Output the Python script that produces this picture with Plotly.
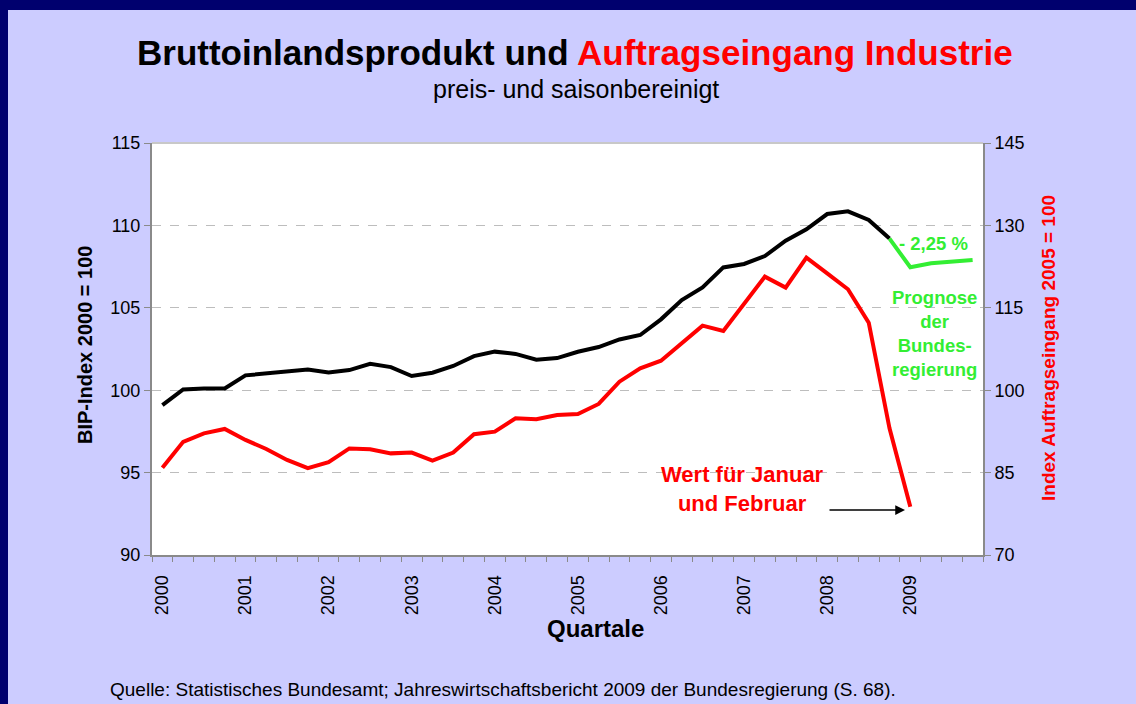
import plotly.graph_objects as go

# ---- data ----
years = [str(y) for y in range(2000, 2010)]
quarters = [f"{y} Q{q}" for y in range(2000, 2010) for q in range(1, 5)]

# BIP-Index 2000 = 100 (actual, 2000Q1 .. 2008Q4)
bip_actual = [99.1, 100.05, 100.1, 100.1, 100.9, 101.03, 101.18, 101.25,
              101.08, 101.22, 101.6, 101.4, 100.86, 101.06, 101.47, 102.07,
              102.34, 102.2, 101.85, 101.95, 102.33, 102.62, 103.08, 103.35,
              104.3, 105.47, 106.24, 107.45, 107.66, 108.14, 109.07, 109.76,
              110.69, 110.85, 110.33, 109.2]
# Prognose der Bundesregierung (2009Q1 .. 2009Q4)
bip_forecast = [107.46, 107.7, 107.8, 107.9]

# Index Auftragseingang 2005 = 100 (2000Q1 .. 2009Q1)
orders = [85.9, 90.6, 92.15, 92.95, 90.95, 89.3, 87.3, 85.8,
          86.9, 89.4, 89.25, 88.5, 88.65, 87.2, 88.65, 92.0,
          92.45, 94.9, 94.7, 95.5, 95.67, 97.5, 101.55, 103.98,
          105.37, 108.54, 111.75, 110.8, 115.82, 120.67, 118.67, 124.13,
          121.28, 118.37, 112.3, 93.06, 78.8]

left_ticks = [90, 95, 100, 105, 110, 115]
right_ticks = [70, 85, 100, 115, 130, 145]

# ---- figure ----
idx = list(range(len(quarters)))
n_act = len(bip_actual)

GREEN = "#33EE33"
RED = "#FF0000"

fig = go.Figure()
fig.add_trace(go.Scatter(x=idx[:n_act], y=bip_actual, mode="lines",
                         line=dict(color="black", width=4), yaxis="y",
                         showlegend=False))
fig.add_trace(go.Scatter(x=idx[n_act - 1:n_act + len(bip_forecast)],
                         y=[bip_actual[-1]] + bip_forecast, mode="lines",
                         line=dict(color=GREEN, width=4), yaxis="y",
                         showlegend=False))
fig.add_trace(go.Scatter(x=idx[:len(orders)], y=orders, mode="lines",
                         line=dict(color=RED, width=4), yaxis="y2",
                         showlegend=False))

W, H = 1136, 704
L, R, T, B = 152, 153, 143, 149
pw, ph = W - L - R, H - T - B

def px_x(px):
    return (px - L) / pw

def px_y(py):
    return (H - B - py) / ph

axis_gray = "#8A8A8A"
font_fam = "Liberation Sans, Arial, sans-serif"

def note(text, x, y, size, color="black", xanchor="center", angle=0):
    return dict(text=text, xref="paper", yref="paper", x=px_x(x), y=px_y(y),
                xanchor=xanchor, yanchor="middle", showarrow=False,
                textangle=angle, font=dict(size=size, color=color))

fig.update_layout(
    width=W, height=H,
    margin=dict(l=L, r=R, t=T, b=B),
    paper_bgcolor="#CCCCFF",
    plot_bgcolor="white",
    font=dict(family=font_fam, color="black"),
    xaxis=dict(
        range=[-0.5, len(quarters) - 0.5],
        tickvals=[quarters.index(f"{y} Q1") for y in years],
        ticktext=years,
        tickangle=-90,
        ticks="",
        ticklabelstandoff=11,
        tickfont=dict(size=18),
        showgrid=False, zeroline=False,
        showline=True, linecolor=axis_gray, linewidth=2, mirror=False,
        minor=dict(ticks="outside", tick0=-0.5, dtick=1, ticklen=5,
                   tickcolor=axis_gray, showgrid=False),
    ),
    yaxis=dict(
        range=[left_ticks[0], left_ticks[-1]],
        tickvals=left_ticks,
        ticks="outside", ticklen=6, tickcolor=axis_gray,
        tickfont=dict(size=18),
        showgrid=True, gridcolor="#BDBDBD", griddash="dash", gridwidth=1,
        zeroline=False,
        showline=True, linecolor=axis_gray, linewidth=2,
    ),
    yaxis2=dict(
        range=[right_ticks[0], right_ticks[-1]],
        tickvals=right_ticks,
        overlaying="y", side="right",
        ticks="outside", ticklen=6, tickcolor=axis_gray,
        tickfont=dict(size=18),
        showgrid=False, zeroline=False,
        showline=True, linecolor=axis_gray, linewidth=2,
    ),
    shapes=[
        # navy frame strips
        dict(type="rect", xref="paper", yref="paper", layer="below",
             x0=px_x(0), x1=px_x(W), y0=px_y(10), y1=px_y(0),
             fillcolor="#00006E", line=dict(width=0)),
        dict(type="rect", xref="paper", yref="paper", layer="below",
             x0=px_x(0), x1=px_x(8), y0=px_y(H), y1=px_y(0),
             fillcolor="#00006E", line=dict(width=0)),
        # top border of plot area
        dict(type="line", xref="paper", yref="paper",
             x0=0, x1=1, y0=1, y1=1, line=dict(color="#C8C8C8", width=2)),
    ],
    annotations=[
        note("<b>Bruttoinlandsprodukt und <span style='color:#FF0000'>Auftragseingang Industrie</span></b>",
             575, 52, 35),
        note("preis- und saisonbereinigt", 576, 89, 25),
        note("Quelle: Statistisches Bundesamt; Jahreswirtschaftsbericht 2009 der Bundesregierung (S. 68).",
             108, 689, 19, xanchor="left"),
        note("<b>Quartale</b>", 595, 628, 24),
        note("<b>BIP-Index 2000 = 100</b>", 85, 345, 20, angle=-90),
        note("<b>Index Auftragseingang 2005 = 100</b>", 1048, 348, 19,
             color=RED, angle=-90),
        note("<b>- 2,25 %</b>", 933, 243, 18.5, color=GREEN),
        note("<b>Prognose<br>der<br>Bundes-<br>regierung</b>", 934, 333, 18.5,
             color=GREEN),
        note("<b>Wert für Januar<br>und Februar</b>", 742, 489, 22, color=RED),
        dict(text="", xref="paper", yref="paper",
             x=px_x(905), y=px_y(510), ax=-77, ay=0,
             showarrow=True, arrowhead=2, arrowsize=1.3, arrowwidth=1.5,
             arrowcolor="black"),
    ],
)

fig.write_html(
    "out.html",
    config={"displayModeBar": False},
    post_script="document.body.style.margin='0';document.body.style.padding='0';"
                "document.body.style.overflow='hidden';",
)
